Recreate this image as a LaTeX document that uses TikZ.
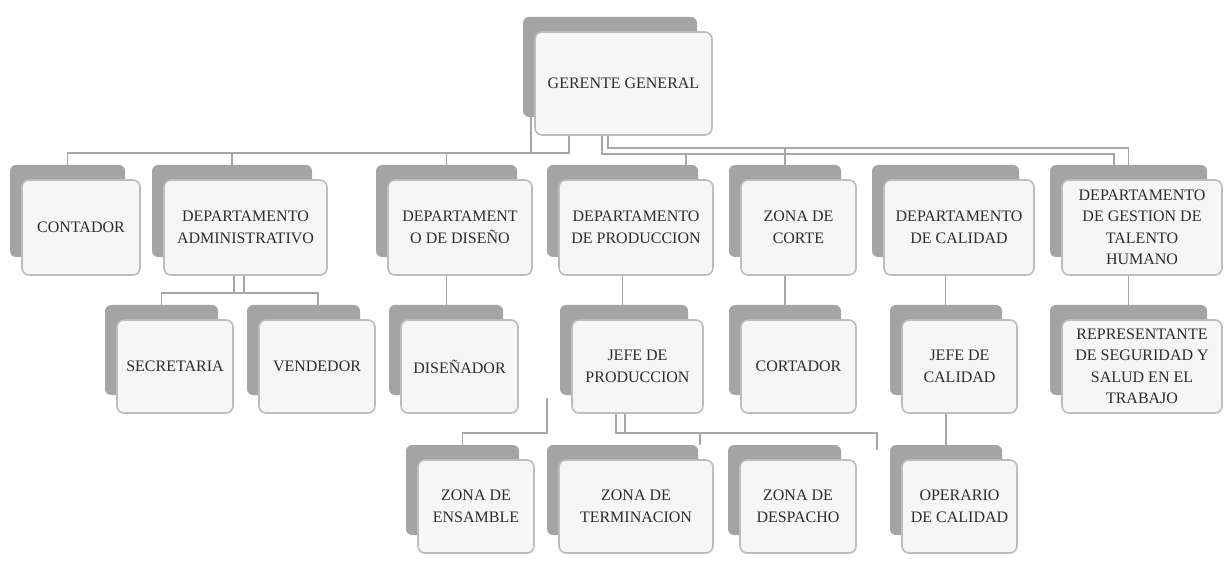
\documentclass[tikz,border=0pt]{standalone}
\usepackage{fontspec}
\setmainfont{Liberation Serif}
\usetikzlibrary{calc}
\definecolor{backgray}{HTML}{A4A4A4}
\definecolor{frontline}{HTML}{BDBDBD}
\definecolor{frontfill}{HTML}{F6F6F6}
\definecolor{conngray}{HTML}{A6A6A6}
\definecolor{txtgray}{HTML}{2C2C2C}
\tikzset{
  backbox/.style={fill=backgray, draw=none, rounded corners=6pt, inner sep=0pt},
  frontbox/.style={fill=frontfill, draw=frontline, line width=1.6pt, rounded corners=7pt,
    inner sep=0pt, align=center, text=txtgray, font=\fontsize{16}{21.5}\selectfont},
  conn/.style={draw=conngray, line width=1.6pt}
}
\newcommand{\orgbox}[6]{%
  \pgfmathsetmacro{\obw}{#4-#2}%
  \pgfmathsetmacro{\obh}{#5-#3}%
  \pgfmathsetmacro{\obx}{(#2+#4)/2}%
  \pgfmathsetmacro{\oby}{(#3+#5)/2}%
  \node[backbox, minimum width=\obw-3, minimum height=\obh-3] (#1b) at (\obx-13.5,\oby-16.5) {};
  \node[frontbox, minimum width=\obw, minimum height=\obh] (#1) at (\obx,\oby) {#6};
}
\begin{document}
\begin{tikzpicture}[x=1pt,y=-1pt]
\useasboundingbox (0,0) rectangle (1232,561);
\fill[white] (0,0) rectangle (1232,561);
% boxes
\orgbox{ger}{535}{32}{712}{135}{GERENTE GENERAL}
\orgbox{cont}{22}{180}{140}{275}{CONTADOR}
\orgbox{adm}{164}{180}{327}{275}{DEPARTAMENTO\\ADMINISTRATIVO}
\orgbox{dis}{388}{180}{532}{275}{DEPARTAMENT\\O DE DISEÑO}
\orgbox{prod}{559}{180}{713}{275}{DEPARTAMENTO\\DE PRODUCCION}
\orgbox{corte}{741}{180}{856}{275}{ZONA DE\\CORTE}
\orgbox{cal}{884}{180}{1034}{275}{DEPARTAMENTO\\DE CALIDAD}
\orgbox{gth}{1062}{180}{1222}{275}{DEPARTAMENTO\\DE GESTION DE\\TALENTO\\HUMANO}
\orgbox{sec}{117}{320}{233}{413}{SECRETARIA}
\orgbox{ven}{259}{320}{375}{413}{VENDEDOR}
\orgbox{disr}{401}{320}{518}{413}{DISEÑADOR}
\orgbox{jprod}{572}{320}{703}{413}{JEFE DE\\PRODUCCION}
\orgbox{cort}{741}{320}{856}{413}{CORTADOR}
\orgbox{jcal}{902}{320}{1017}{413}{JEFE DE\\CALIDAD}
\orgbox{rep}{1062}{320}{1222}{413}{REPRESENTANTE\\DE SEGURIDAD Y\\SALUD EN EL\\TRABAJO}
\orgbox{ens}{418}{460}{534}{553}{ZONA DE\\ENSAMBLE}
\orgbox{term}{559}{460}{713}{553}{ZONA DE\\TERMINACION}
\orgbox{desp}{740}{460}{856}{553}{ZONA DE\\DESPACHO}
\orgbox{oper}{902}{460}{1017}{553}{OPERARIO\\DE CALIDAD}
% bus levels
\coordinate (busL) at (0,153);
\coordinate (busRa) at (0,148);
\coordinate (busRb) at (0,154);
\coordinate (busA) at (0,293);
\coordinate (busP) at (0,433);
\coordinate (ensTop) at (547,398);
% connectors from the general manager
\draw[conn] (569,0 |- ger.south) |- (contb.north |- busL) -- (contb.north);
\draw[conn] (531,0 |- gerb.south) -- (531,0 |- busL);
\draw[conn] (admb.north |- busL) -- (admb.north);
\draw[conn] (disb.north |- busL) -- (disb.north);
\draw[conn] (602,0 |- ger.south) |- (1114,0 |- busRb) -- (1114,0 |- gthb.north);
\draw[conn] (608,0 |- ger.south) |- (gthb.north |- busRa) -- (gthb.north);
\draw[conn] (686,0 |- busRb) -- (686,0 |- prodb.north);
\draw[conn] (corteb.north |- busRa) -- (corteb.north);
% administration
\draw[conn] (234,0 |- adm.south) -- (234,0 |- busA);
\draw[conn] (244,0 |- adm.south) -- (244,0 |- busA);
\draw[conn] (secb.north) |- (318,0 |- busA) -- (318,0 |- venb.north);
% single verticals
\draw[conn] (disb.center |- dis.south) -- (disb.center |- disrb.north);
\draw[conn] (prodb.center |- prod.south) -- (prodb.center |- jprodb.north);
\draw[conn] (corteb.center |- corte.south) -- (corteb.center |- cortb.north);
\draw[conn] (calb.center |- cal.south) -- (calb.center |- jcalb.north);
\draw[conn] (gthb.center |- gth.south) -- (gthb.center |- repb.north);
\draw[conn] (jcalb.center |- jcal.south) -- (jcalb.center |- operb.north);
% production
\draw[conn] (616,0 |- jprod.south) |- (877,0 |- busP) -- (877,450);
\draw[conn] (625,0 |- jprod.south) -- (625,0 |- busP);
\draw[conn] (700,0 |- busP) -- (700,0 |- termb.north);
\draw[conn] (ensTop) |- (ensb.north |- busP) -- (ensb.north);
\end{tikzpicture}
\end{document}
